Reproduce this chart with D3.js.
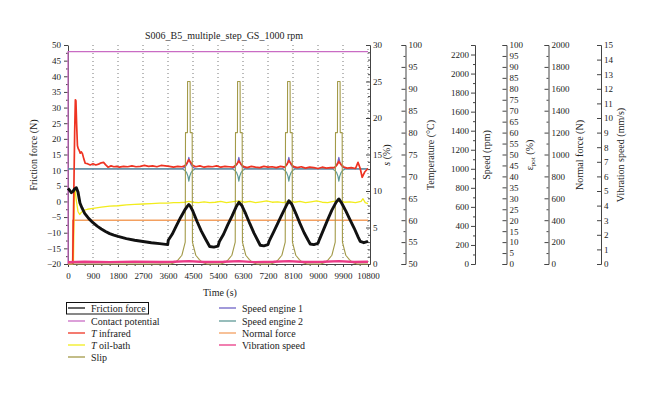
<!DOCTYPE html>
<html><head><meta charset="utf-8">
<script src="https://cdn.jsdelivr.net/npm/d3@7"></script>
<style>body{margin:0;background:#fff}svg{display:block;font-family:"Liberation Serif","DejaVu Serif",serif}</style>
</head><body><svg id="c" width="660" height="393"></svg>
<script>
// ---------------- data ----------------
const chartTitle = "S006_B5_multiple_step_GS_1000 rpm";
const timeTicks = [0,900,1800,2700,3600,4500,5400,6300,7200,8100,9000,9900,10800];
const frictionTicks = [-20,-15,-10,-5,0,5,10,15,20,25,30,35,40,45,50];
const slipTicks = [0,5,10,15,20,25,30];
const tempTicks = [50,55,60,65,70,75,80,85,90,95,100];
const speedTicks = [0,200,400,600,800,1000,1200,1400,1600,1800,2000,2200];
const potTicks = [0,5,10,15,20,25,30,35,40,45,50,55,60,65,70,75,80,85,90,95,100];
const normalTicks = [0,200,400,600,800,1000,1200,1400,1600,1800,2000];
const vibTicks = [0,1,2,3,4,5,6,7,8,9,10,11,12,13,14,15];

const frictionTime = [0,60,120,180,240,300,360,430,500,600,750,900,1050,1200,1350,1500,1650,1800,2100,2400,2700,3000,3300,3590,3610,3750,3900,4050,4200,4300,4350,4400,4500,4650,4800,4950,5050,5100,5250,5400,5450,5600,5750,5900,6050,6150,6250,6400,6550,6700,6850,6920,7050,7200,7250,7400,7550,7700,7850,7950,8050,8200,8350,8500,8650,8720,8850,9000,9050,9200,9350,9500,9650,9750,9850,10000,10150,10300,10450,10520,10650,10800];
const frictionForce = [4.2,3.5,2.8,3.2,4.0,4.4,3.0,-0.5,-2.0,-3.8,-5.5,-6.8,-7.9,-8.8,-9.6,-10.3,-10.8,-11.2,-11.9,-12.4,-12.8,-13.2,-13.5,-13.8,-12.4,-10.5,-7.8,-5.2,-2.8,-1.5,-1.0,-1.5,-3.2,-6.5,-9.5,-12.0,-13.6,-14.4,-14.6,-14.3,-12.8,-10.5,-7.5,-4.8,-1.8,-0.3,-1.2,-4.0,-7.2,-10.2,-12.8,-14.0,-14.2,-13.8,-12.5,-9.8,-7.0,-4.2,-1.5,0.2,-0.8,-3.8,-7.0,-10.0,-12.5,-13.6,-13.8,-13.4,-12.2,-9.0,-5.8,-2.8,-0.3,0.8,-0.5,-3.0,-5.8,-8.5,-11.5,-12.8,-13.2,-12.8];

const potTime = [0,0,10800];
const potPct = [0,97,97];

const irTime = [170,200,240,265,285,310,340,370,400,440,480,520,570,620,700,800,900,1000,1100,1200,1280,1350,1440,1550,1650,1750,1850,2000,2150,2300,2450,2600,2750,2900,3050,3200,3350,3500,3650,3800,3950,4100,4200,4280,4350,4420,4500,4600,4750,4900,5050,5200,5350,5500,5650,5800,5950,6080,6150,6220,6300,6450,6600,6750,6900,7050,7200,7350,7500,7650,7800,7880,7950,8020,8100,8250,8400,8550,8700,8850,9000,9150,9300,9450,9600,9680,9750,9820,9900,10050,10200,10350,10440,10520,10590,10680,10800];
const irTemp = [50,62,80,87.5,87.3,82,77,76.3,76.0,75.3,75.6,75.2,74.0,73.0,72.9,72.6,72.9,72.6,72.8,73.1,73.2,72.7,72.1,72.4,72.2,72.3,72.1,72.3,72.2,72.4,72.2,72.3,72.5,72.3,72.4,72.2,72.5,72.4,72.3,72.1,72.3,72.2,72.4,73.0,73.8,73.2,72.5,72.2,72.4,72.1,72.3,72.2,72.4,72.1,72.3,72.2,72.1,72.8,73.5,72.9,72.3,72.0,72.3,72.1,72.0,72.3,72.1,72.2,72.0,72.3,72.1,72.7,73.6,73.0,72.3,72.0,72.2,71.9,72.1,72.0,71.8,72.1,71.9,72.0,72.0,72.6,73.4,72.8,72.2,71.9,72.0,71.8,73.2,71.8,69.8,71.0,71.8];

const oilTime = [195,230,255,300,360,420,480,600,700,900,1200,1500,1800,2100,2400,2700,3000,3300,3600,3800,4000,4200,4350,4500,4700,4900,5100,5300,5500,5700,5900,6150,6350,6550,6750,6950,7150,7350,7550,7750,7950,8150,8350,8550,8750,8950,9150,9350,9550,9750,9950,10150,10350,10550,10620,10700,10800];
const oilTemp = [50,66.0,67.0,64.5,62.0,61.3,61.8,62.3,62.5,62.7,63.0,63.2,63.3,63.5,63.6,63.7,63.8,63.9,63.9,64.0,64.0,64.1,64.3,64.1,64.0,64.2,64.0,64.1,64.3,64.0,64.2,64.4,64.1,64.3,64.0,64.2,64.4,64.1,64.2,64.0,64.4,64.1,64.3,64.0,64.2,64.4,64.1,64.0,64.3,64.4,64.1,64.2,64.0,64.3,64.9,64.0,63.8];

const slipTime = [0,3700,3850,3970,4100,4220,4230,4300,4305,4395,4400,4470,4480,4600,4730,4850,5000,
  5500,5650,5770,5900,6020,6030,6100,6105,6195,6200,6270,6280,6400,6530,6650,6800,
  7300,7450,7570,7700,7820,7830,7900,7905,7995,8000,8070,8080,8200,8330,8450,8600,
  9100,9250,9370,9500,9620,9630,9700,9705,9795,9800,9870,9880,10000,10130,10250,10400,10800];
const slipPct = [0,0,0.2,0.6,1.2,3.0,18,18,25,25,18,18,3.0,1.2,0.6,0.2,0,
  0,0.2,0.6,1.2,3.0,18,18,25,25,18,18,3.0,1.2,0.6,0.2,0,
  0,0.2,0.6,1.2,3.0,18,18,25,25,18,18,3.0,1.2,0.6,0.2,0,
  0,0.2,0.6,1.2,3.0,18,18,25,25,18,18,3.0,1.2,0.6,0.2,0,0];

const speedTime = [0,4100,4200,4270,4320,4350,4380,4430,4500,4600,5900,6000,6070,6120,6150,6180,6230,6300,6400,7700,7800,7870,7920,7950,7980,8030,8100,8200,9500,9600,9670,9720,9750,9780,9830,9900,10000,10800];
const speed1Rpm = [1000,1000,1015,1040,1080,1120,1080,1040,1015,1000,1000,1015,1040,1080,1120,1080,1040,1015,1000,1000,1015,1040,1080,1120,1080,1040,1015,1000,1000,1015,1040,1080,1120,1080,1040,1015,1000,1000];
const speed2Rpm = [1000,1000,985,960,920,870,920,960,985,1000,1000,985,960,920,870,920,960,985,1000,1000,985,960,920,870,920,960,985,1000,1000,985,960,920,870,920,960,985,1000,1000];

const normalTime = [0,165,170,10800];
const normalN = [0,0,400,400];

const vibTime = [0,600,1500,2400,3300,3800,4350,4900,5600,6150,6700,7400,7950,8500,9200,9750,10300,10800];
const vibMm = [0.12,0.15,0.13,0.16,0.14,0.15,0.2,0.14,0.15,0.2,0.13,0.15,0.2,0.14,0.15,0.2,0.14,0.15];

const legendLeft = ["Friction force","Contact potential","T infrared","T oil-bath","Slip"];
const legendRight = ["Speed engine 1","Speed engine 2","Normal force","Vibration speed"];

// ---------------- drawing ----------------
const C = {friction:"#111", pot:"#c96cc4", ir:"#ee3322", oil:"#f2ec1c", slip:"#a39a48",
  sp1:"#6f63c6", sp2:"#5f9a96", normal:"#f3a060", vib:"#ea3a86"};
const svg = d3.select("#c");
const yTop = 45, yBot = 264;
const x = d3.scaleLinear().domain([0,10800]).range([68,368]);
const yF = d3.scaleLinear().domain([-20,50]).range([yBot,yTop]);
const yS = d3.scaleLinear().domain([0,30]).range([yBot,yTop]);
const yT = d3.scaleLinear().domain([50,100]).range([yBot,yTop]);
const yR = d3.scaleLinear().domain([0,2300]).range([yBot,yTop]);
const yP = d3.scaleLinear().domain([0,100]).range([yBot,yTop]);
const yN = d3.scaleLinear().domain([0,2000]).range([yBot,yTop]);
const yV = d3.scaleLinear().domain([0,15]).range([yBot,yTop]);
const fmt = d3.format("d");

function styleAxis(g){
  g.attr("font-family",null).attr("font-size",null);
  g.selectAll("path.domain").attr("stroke","#444");
  g.selectAll(".tick line").attr("stroke","#444");
  g.selectAll(".tick text").attr("fill","#222").style("font-size","9px");
}
function minorTicks(g, axisFn, scale, vals, size){
  const m = g.append("g").call(axisFn(scale).tickValues(vals).tickSize(size).tickSizeOuter(0).tickFormat(""));
  m.select("path.domain").remove();
  m.selectAll(".tick line").attr("stroke","#444");
}
const range = (a,b,s)=>d3.range(a,b+s/2,s);

// title
svg.append("text").attr("x",224).attr("y",39).attr("text-anchor","middle").style("font-size","10px").attr("fill","#222").text(chartTitle);

// dotted grid
svg.append("g").selectAll("line").data(timeTicks.slice(1)).join("line")
  .attr("x1",d=>x(d)).attr("x2",d=>x(d)).attr("y1",yTop).attr("y2",yBot)
  .attr("stroke","#777").attr("stroke-dasharray","1,3");

// x axis
const gx = svg.append("g").attr("transform",`translate(0,${yBot})`)
  .call(d3.axisBottom(x).tickValues(timeTicks).tickSize(3).tickSizeOuter(0).tickPadding(6).tickFormat(fmt));
styleAxis(gx);
minorTicks(gx, d3.axisBottom, x, range(0,10800,300).filter(d=>d%900), 2);

// left axis
const gl = svg.append("g").attr("transform","translate(68,0)")
  .call(d3.axisLeft(yF).tickValues(frictionTicks).tickSize(4).tickSizeOuter(0).tickPadding(3).tickFormat(fmt));
styleAxis(gl);
minorTicks(gl, d3.axisLeft, yF, range(-17.5,47.5,5), 2);

function rAxis(xp, scale, ticks, minor, left){
  const a = left ? d3.axisLeft(scale).tickSize(4).tickSizeOuter(4).tickPadding(2)
                 : d3.axisRight(scale).tickSize(-4).tickSizeOuter(-4).tickPadding(3);
  const g = svg.append("g").attr("transform",`translate(${xp},0)`).call(a.tickValues(ticks).tickFormat(fmt));
  styleAxis(g);
  if (minor) minorTicks(g, left?d3.axisLeft:d3.axisRight, scale, minor, left?2:-2);
  return g;
}
rAxis(370, yS, slipTicks, range(0,30,1).filter(d=>d%5));
rAxis(405.5, yT, tempTicks, range(52.5,97.5,5));
rAxis(475, yR, speedTicks, range(100,2300,200), true);
rAxis(506.5, yP, potTicks, null);
rAxis(548.5, yN, normalTicks, range(100,1900,200));
rAxis(601, yV, vibTicks, null);

// axis titles
function vLabel(xp, txt){
  return svg.append("text").attr("transform",`translate(${xp},155) rotate(-90)`)
    .attr("text-anchor","middle").attr("fill","#222").style("font-size","10px").text(txt);
}
vLabel(37,"Friction force (N)");
const sl = vLabel(390,"");
sl.append("tspan").style("font-style","italic").text("s");
sl.append("tspan").text(" (%)");
vLabel(434,"Temperature (°C)");
vLabel(490,"Speed (rpm)");
const pl = vLabel(533,"");
pl.append("tspan").text("ε");
pl.append("tspan").attr("dy",2).style("font-size","7px").text("pot");
pl.append("tspan").attr("dy",-2).text(" (%)");
vLabel(583,"Normal force (N)");
vLabel(624,"Vibration speed (mm/s)");
svg.append("text").attr("x",220).attr("y",296).attr("text-anchor","middle").attr("fill","#222").style("font-size","10px").text("Time (s)");

// data lines
function series(tArr, vArr, ys, color, w){
  const pts = tArr.map((t,i)=>[t,vArr[i]]);
  svg.append("path").datum(pts)
    .attr("d", d3.line().x(d=>x(d[0])).y(d=>ys(d[1])))
    .attr("fill","none").attr("stroke",color).attr("stroke-width",w).attr("stroke-linejoin","round");
}
series(potTime, potPct, yP, C.pot, 1.3);
series(speedTime, speed1Rpm, yR, C.sp1, 1.2);
series(speedTime, speed2Rpm, yR, C.sp2, 1.2);
series(normalTime, normalN, yN, C.normal, 1.4);
series(oilTime, oilTemp, yT, C.oil, 1.3);
series(irTime, irTemp, yT, C.ir, 1.7);
series(slipTime, slipPct, yS, C.slip, 1.1);
series(frictionTime, frictionForce, yF, C.friction, 2.9);
series(vibTime, vibMm, yV, C.vib, 2.4);

// legend
const lg = svg.append("g").style("font-size","10px").attr("fill","#222");
const leftColors = [C.friction,C.pot,C.ir,C.oil,C.slip];
const rightColors = [C.sp1,C.sp2,C.normal,C.vib];
const rowY = [308,321,333,345,357];
lg.append("rect").attr("x",66.5).attr("y",302.5).attr("width",82).attr("height",11.5)
  .attr("fill","none").attr("stroke","#111").attr("stroke-width",1);
function legItem(xl, y, color, label){
  lg.append("line").attr("x1",xl).attr("x2",xl+17).attr("y1",y).attr("y2",y).attr("stroke",color).attr("stroke-width",1.3);
  const t = lg.append("text").attr("x",xl+23).attr("y",y+3.5);
  if (label.startsWith("T ")) { t.append("tspan").style("font-style","italic").text("T"); t.append("tspan").text(label.slice(1)); }
  else t.text(label);
}
legendLeft.forEach((l,i)=>legItem(68,rowY[i],leftColors[i],l));
legendRight.forEach((l,i)=>legItem(219,rowY[i],rightColors[i],l));
</script></body></html>
